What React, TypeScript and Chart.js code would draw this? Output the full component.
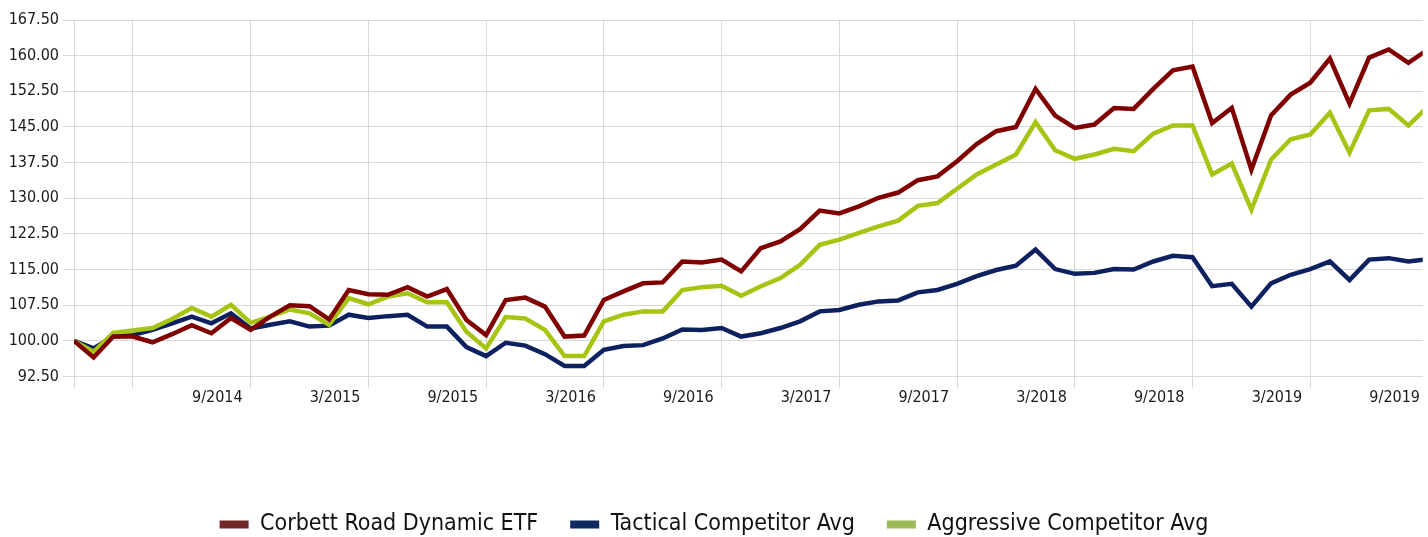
import React, { useEffect, useRef } from "react";
import { Chart, registerables } from "chart.js";

Chart.register(...registerables);

const seriesNames = ["Corbett Road Dynamic ETF", "Tactical Competitor Avg", "Aggressive Competitor Avg"];

// month index 0 = 12/2013 ... 69 = 9/2019
const corbett = [
  100.0, 96.5, 100.9, 100.9, 99.7, 101.4, 103.3, 101.6, 104.8, 102.3,
  105.1, 107.5, 107.3, 104.5, 110.7, 109.8, 109.7, 111.3, 109.3, 110.9,
  104.4, 101.2, 108.6, 109.1, 107.2, 100.9, 101.1, 108.6, 110.4, 112.1,
  112.3, 116.7, 116.5, 117.1, 114.6, 119.5, 120.9, 123.5, 127.4, 126.8,
  128.3, 130.1, 131.2, 133.8, 134.6, 137.8, 141.4, 144.1, 145.0, 153.0,
  147.4, 144.8, 145.5, 149.0, 148.8, 153.0, 156.9, 157.7, 145.8, 149.0,
  136.0, 147.4, 151.8, 154.3, 159.4, 149.9, 159.6, 161.3, 158.5, 161.3,
];
const tactical = [
  100.0, 98.4, 100.9, 101.2, 102.3, 103.7, 105.1, 103.7, 105.8, 102.6,
  103.4, 104.1, 103.0, 103.2, 105.5, 104.8, 105.2, 105.5, 103.0, 103.0,
  98.7, 96.8, 99.6, 99.0, 97.2, 94.7, 94.7, 98.1, 98.9, 99.1,
  100.5, 102.4, 102.3, 102.7, 100.9, 101.6, 102.7, 104.1, 106.2, 106.5,
  107.6, 108.3, 108.5, 110.2, 110.7, 112.0, 113.6, 114.9, 115.8, 119.2,
  115.1, 114.1, 114.3, 115.1, 115.0, 116.7, 117.9, 117.6, 111.5, 112.0,
  107.2, 112.1, 113.9, 115.1, 116.7, 112.8, 117.1, 117.4, 116.7, 117.2,
];
const aggressive = [
  100.0, 97.7, 101.7, 102.2, 102.7, 104.6, 106.9, 105.1, 107.6, 103.8,
  105.1, 106.6, 105.8, 103.4, 109.0, 107.7, 109.3, 110.0, 108.1, 108.1,
  101.9, 98.4, 105.0, 104.7, 102.3, 96.8, 96.8, 104.1, 105.5, 106.2,
  106.2, 110.7, 111.3, 111.6, 109.5, 111.5, 113.2, 116.0, 120.2, 121.3,
  122.7, 124.1, 125.3, 128.4, 129.0, 132.0, 135.0, 137.1, 139.2, 146.0,
  140.1, 138.3, 139.2, 140.4, 139.9, 143.6, 145.3, 145.3, 135.0, 137.3,
  127.6, 138.1, 142.4, 143.4, 148.0, 139.6, 148.5, 148.8, 145.3, 149.3,
];

const gridMonths = [0, 3, 9, 15, 21, 27, 33, 39, 45, 51, 57, 63, 69];
const gridLabels = ["", "", "9/2014", "3/2015", "9/2015", "3/2016", "9/2016", "3/2017", "9/2017", "3/2018", "9/2018", "3/2019", "9/2019"];

const yMin = 92.5;
const yMax = 167.5;
const yStep = 7.5;
const xMaxVisible = 68.73;

const lineColors = ["#800000", "#0d2160", "#a6c412"];
const legendColors = ["#722829", "#0c2a5f", "#9bbb59"];
const gridColor = "#d9d9d9";
const tickFont = { family: "'DejaVu Sans Condensed', 'DejaVu Sans', sans-serif", size: 16 };
const LEGEND_FONT_SIZE = 23;
const LEGEND_PAD = 32;
const legendFont = { family: "'Liberation Sans Narrow', 'DejaVu Sans Condensed', sans-serif", size: LEGEND_FONT_SIZE };

const CANVAS_W = 1428;
const CANVAS_H = 546;
const LEGEND_H = LEGEND_FONT_SIZE + LEGEND_PAD + 10;
const PLOT_BOTTOM = 376.5;

export default function App() {
  const ref = useRef<HTMLCanvasElement | null>(null);

  useEffect(() => {
    const canvas = ref.current;
    if (!canvas) return;
    const seriesValues = [corbett, tactical, aggressive];
    const chart = new Chart(canvas, {
      type: "line",
      data: {
        datasets: seriesValues.map((vals, i) => ({
          label: seriesNames[i],
          data: vals.map((v, m) => ({ x: m, y: v })),
          borderColor: lineColors[i],
          backgroundColor: lineColors[i],
          borderWidth: 4.5,
          pointRadius: 0,
          tension: 0,
          fill: false,
          order: i === 0 ? 0 : i === 2 ? 1 : 2,
        })),
      },
      options: {
        animation: false,
        responsive: false,
        maintainAspectRatio: false,
        layout: { padding: { top: 20, left: 0, right: 0, bottom: 0 } },
        plugins: {
          tooltip: { enabled: false },
          legend: {
            position: "bottom",
            labels: {
              boxWidth: 29,
              boxHeight: 8,
              padding: LEGEND_PAD,
              color: "#111",
              font: legendFont,
              generateLabels: (c: any) =>
                c.data.datasets.map((ds: any, i: number) => ({
                  text: ds.label,
                  fillStyle: legendColors[i],
                  strokeStyle: legendColors[i],
                  lineWidth: 0,
                  hidden: false,
                  datasetIndex: i,
                  fontColor: "#111",
                })),
            },
          },
        },
        scales: {
          x: {
            type: "linear",
            min: 0,
            max: xMaxVisible,
            afterBuildTicks: (s: any) => {
              s.ticks = gridMonths.map((v) => ({ value: v }));
            },
            afterFit: (s: any) => {
              s.height = CANVAS_H - LEGEND_H - PLOT_BOTTOM;
            },
            ticks: {
              autoSkip: false,
              maxRotation: 0,
              align: "end",
              labelOffset: -8,
              padding: 0,
              color: "#1a1a1a",
              font: tickFont,
              callback: (v: any) => {
                const idx = gridMonths.indexOf(Number(v));
                return idx >= 0 ? gridLabels[idx] : "";
              },
            },
            grid: { color: gridColor, lineWidth: 1, tickLength: 12, drawTicks: true },
            border: { color: gridColor, width: 1 },
          },
          y: {
            min: yMin,
            max: yMax,
            afterFit: (s: any) => {
              s.width = 74;
            },
            ticks: {
              stepSize: yStep,
              padding: 4,
              color: "#1a1a1a",
              font: tickFont,
              callback: (v: any) => Number(v).toFixed(2),
            },
            grid: { color: gridColor, lineWidth: 1, tickLength: 11, drawTicks: true },
            border: { color: gridColor, width: 1 },
          },
        },
      },
    } as any);
    return () => chart.destroy();
  }, []);

  return (
    <div
      style={{
        position: "fixed",
        left: 0,
        top: 0,
        width: CANVAS_W,
        height: 537,
        overflow: "hidden",
        background: "#ffffff",
      }}
    >
      <canvas ref={ref} width={CANVAS_W} height={CANVAS_H} style={{ display: "block", width: CANVAS_W, height: CANVAS_H }} />
    </div>
  );
}
